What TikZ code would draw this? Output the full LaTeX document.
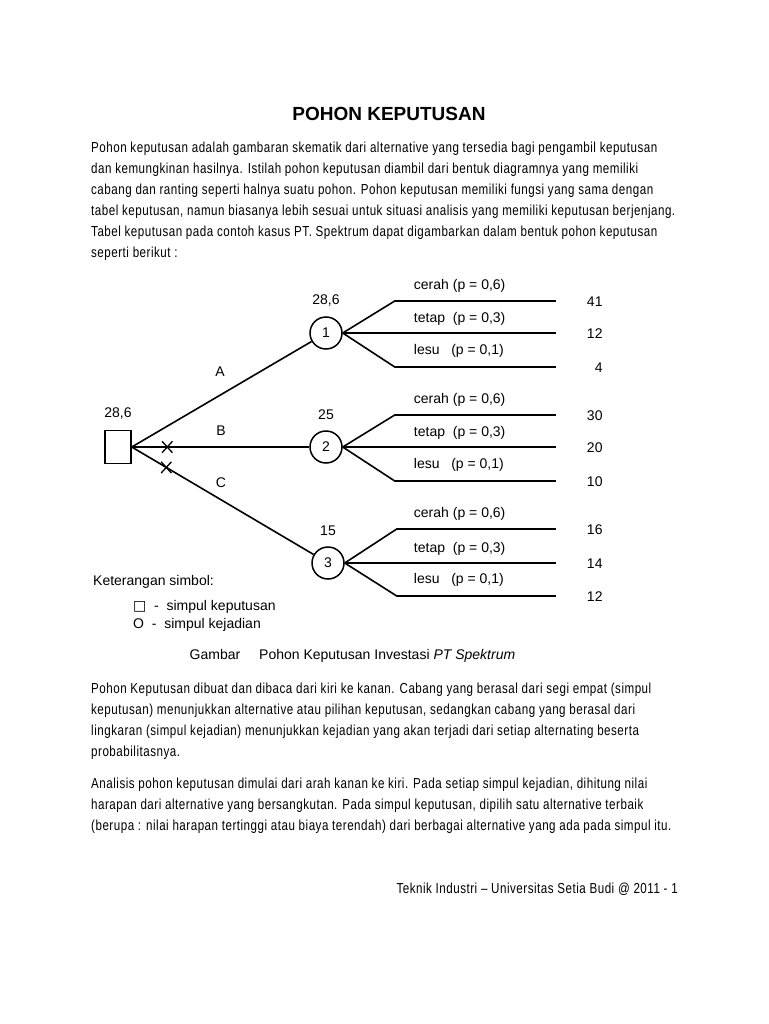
\documentclass[tikz,border=0pt]{standalone}
\usepackage{fontspec}
\setmainfont{Liberation Sans}
\newfontfamily\bodyfont{Liberation Sans}[FakeStretch=0.8, LetterSpace=3.5]
\newfontfamily\symbolfont{DejaVu Sans}
\usetikzlibrary{positioning,calc,shapes.misc}
\tikzset{
  branch/.style={line width=1.6pt},
  decisionbox/.style={draw, line width=1.5pt, minimum width=26pt, minimum height=33pt, inner sep=0pt},
  chancenode/.style={draw, circle, line width=1.5pt, minimum size=32pt, inner sep=0pt},
  emv/.style={inner sep=0pt},
  altlabel/.style={inner sep=0pt},
  prob/.style={anchor=base west, inner sep=0pt},
  payoff/.style={anchor=base east, inner sep=0pt},
  xmark/.style={draw, cross out, line width=1.3pt, minimum width=9pt, minimum height=10pt, inner sep=0pt},
  bodytext/.style={anchor=north west, align=left, inner sep=0pt, font=\bodyfont\fontsize{14.5}{21}\selectfont},
  legend/.style={anchor=base west, inner sep=0pt}
}

\begin{document}
\begin{tikzpicture}[x=1pt, y=-1pt, every node/.style={font=\fontsize{14}{16}\selectfont}]
  \useasboundingbox[fill=white] (0,0) rectangle (768,1024);

  % judul dan paragraf pembuka
  \node[font=\bfseries\fontsize{19}{22}\selectfont, anchor=base, inner sep=0pt] (title) at (389,121) {POHON KEPUTUSAN};
  \node[bodytext] (intro) at (91,142) {Pohon keputusan adalah gambaran skematik dari alternative yang tersedia bagi pengambil keputusan\\
    dan kemungkinan hasilnya. Istilah pohon keputusan diambil dari bentuk diagramnya yang memiliki\\
    cabang dan ranting seperti halnya suatu pohon. Pohon keputusan memiliki fungsi yang sama dengan\\
    tabel keputusan, namun biasanya lebih sesuai untuk situasi analisis yang memiliki keputusan berjenjang.\\
    Tabel keputusan pada contoh kasus PT. Spektrum dapat digambarkan dalam bentuk pohon keputusan\\
    seperti berikut :};

  % simpul keputusan dan tiga alternatif
  \node[decisionbox] (dec) at (118,447) {};
  \node[emv, above=10pt of dec] (emv0) {28,6};
  \node[chancenode] (c1) at (326,333) {1};
  \node[chancenode] (c2) at (326,447) {2};
  \node[chancenode] (c3) at (328,563) {3};
  \node[emv, above=10pt of c1] (emv1) {28,6};
  \node[emv, above=10pt of c2] (emv2) {25};
  \node[emv, above=10pt of c3] (emv3) {15};
  \draw[branch] (dec.east) -- (c1);
  \draw[branch] (dec.east) -- node[xmark, pos=0.2] (xb) {} (c2);
  \draw[branch] (dec.east) -- node[xmark, pos=0.19] (xc) {} (c3);
  \node[altlabel] (la) at (220,372) {A};
  \node[altlabel] (lb) at (221,431) {B};
  \node[altlabel] (lc) at (221,483) {C};

  % cabang kejadian simpul 1
  \coordinate (k1a) at ($(c1.east)+(52,-32)$);
  \coordinate (e1a) at ($(c1.east)+(213,-32)$);
  \coordinate (e1b) at ($(c1.east)+(213,0)$);
  \coordinate (k1c) at ($(c1.east)+(52,34)$);
  \coordinate (e1c) at ($(c1.east)+(213,34)$);
  \draw[branch] (c1.east) -- (k1a) -- (e1a);
  \draw[branch] (c1.east) -- (e1b);
  \draw[branch] (c1.east) -- (k1c) -- (e1c);
  \node[prob] (p1a) at ($(k1a)+(19,-12)$) {cerah (p = 0,6)};
  \node[prob] (p1b) at ($(k1a|-e1b)+(19,-11)$) {tetap\ \ (p = 0,3)};
  \node[prob] (p1c) at ($(k1c)+(19,-13)$) {lesu\ \ \ (p = 0,1)};
  \node[payoff] (v1a) at ($(e1a)+(47,5)$) {41};
  \node[payoff] (v1b) at ($(e1b)+(47,5)$) {12};
  \node[payoff] (v1c) at ($(e1c)+(47,5)$) {4};

  % cabang kejadian simpul 2
  \coordinate (k2a) at ($(c2.east)+(52,-32)$);
  \coordinate (e2a) at ($(c2.east)+(213,-32)$);
  \coordinate (e2b) at ($(c2.east)+(213,0)$);
  \coordinate (k2c) at ($(c2.east)+(52,34)$);
  \coordinate (e2c) at ($(c2.east)+(213,34)$);
  \draw[branch] (c2.east) -- (k2a) -- (e2a);
  \draw[branch] (c2.east) -- (e2b);
  \draw[branch] (c2.east) -- (k2c) -- (e2c);
  \node[prob] (p2a) at ($(k2a)+(19,-12)$) {cerah (p = 0,6)};
  \node[prob] (p2b) at ($(k2a|-e2b)+(19,-11)$) {tetap\ \ (p = 0,3)};
  \node[prob] (p2c) at ($(k2c)+(19,-13)$) {lesu\ \ \ (p = 0,1)};
  \node[payoff] (v2a) at ($(e2a)+(47,5)$) {30};
  \node[payoff] (v2b) at ($(e2b)+(47,5)$) {20};
  \node[payoff] (v2c) at ($(e2c)+(47,5)$) {10};

  % cabang kejadian simpul 3
  \coordinate (k3a) at ($(c3.east)+(52,-34)$);
  \coordinate (e3a) at ($(c3.east)+(211,-34)$);
  \coordinate (e3b) at ($(c3.east)+(211,0)$);
  \coordinate (k3c) at ($(c3.east)+(52,33)$);
  \coordinate (e3c) at ($(c3.east)+(211,33)$);
  \draw[branch] (c3.east) -- (k3a) -- (e3a);
  \draw[branch] (c3.east) -- (e3b);
  \draw[branch] (c3.east) -- (k3c) -- (e3c);
  \node[prob] (p3a) at ($(k3a)+(17,-12)$) {cerah (p = 0,6)};
  \node[prob] (p3b) at ($(k3a|-e3b)+(17,-11)$) {tetap\ \ (p = 0,3)};
  \node[prob] (p3c) at ($(k3c)+(17,-13)$) {lesu\ \ \ (p = 0,1)};
  \node[payoff] (v3a) at ($(e3a)+(47,5)$) {16};
  \node[payoff] (v3b) at ($(e3b)+(47,5)$) {14};
  \node[payoff] (v3c) at ($(e3c)+(47,5)$) {12};

  % keterangan dan judul gambar
  \node[legend] (legtitle) at (93,585) {Keterangan simbol:};
  \node[legend] (legsq) at (133,610) {{\symbolfont □}\ \ -\ \ simpul keputusan};
  \node[legend] (legci) at (133,628) {O\ \ -\ \ simpul kejadian};
  \node[anchor=base, inner sep=0pt] (capnum) at (215,659) {Gambar};
  \node[anchor=base west, inner sep=0pt] (captext) at (259,659) {Pohon Keputusan Investasi \textit{PT Spektrum}};

  % paragraf penjelasan
  \node[bodytext] (explain) at (91,683) {Pohon Keputusan dibuat dan dibaca dari kiri ke kanan. Cabang yang berasal dari segi empat (simpul\\
    keputusan) menunjukkan alternative atau pilihan keputusan, sedangkan cabang yang berasal dari\\
    lingkaran (simpul kejadian) menunjukkan kejadian yang akan terjadi dari setiap alternating beserta\\
    probabilitasnya.};
  \node[bodytext] (analysis) at (91,778) {Analisis pohon keputusan dimulai dari arah kanan ke kiri. Pada setiap simpul kejadian, dihitung nilai\\
    harapan dari alternative yang bersangkutan. Pada simpul keputusan, dipilih satu alternative terbaik\\
    (berupa : nilai harapan tertinggi atau biaya terendah) dari berbagai alternative yang ada pada simpul itu.};
  \node[anchor=base east, inner sep=0pt, font=\bodyfont\fontsize{14.5}{16}\selectfont] (footer) at (678,893) {Teknik Industri – Universitas Setia Budi @ 2011 - 1};
\end{tikzpicture}
\end{document}
